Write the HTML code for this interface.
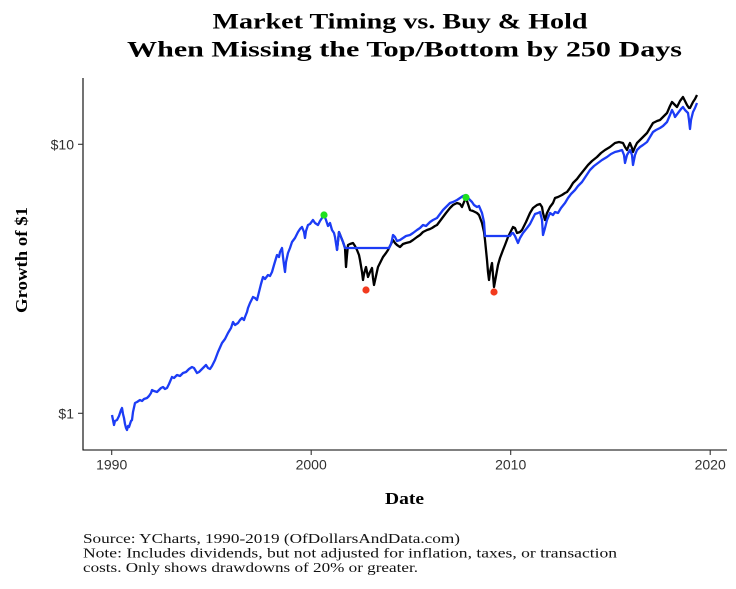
<!DOCTYPE html>
<html>
<head>
<meta charset="utf-8">
<style>
  html, body { margin: 0; padding: 0; background: #ffffff; }
  svg { display: block; }
</style>
</head>
<body>
<svg width="736" height="589" viewBox="0 0 736 589" xmlns="http://www.w3.org/2000/svg">
  <rect width="736" height="589" fill="#ffffff"/>

  <!-- Title -->
  <text x="400" y="28.3" text-anchor="middle" font-family="'Liberation Serif', serif" font-weight="bold" font-size="22" fill="#000" textLength="375" lengthAdjust="spacingAndGlyphs">Market Timing vs. Buy &amp; Hold</text>
  <text x="404.5" y="56.7" text-anchor="middle" font-family="'Liberation Serif', serif" font-weight="bold" font-size="22" fill="#000" textLength="555" lengthAdjust="spacingAndGlyphs">When Missing the Top/Bottom by 250 Days</text>

  <!-- Axes -->
  <line x1="83" y1="78" x2="83" y2="450.5" stroke="#000" stroke-width="1.1"/>
  <line x1="82.5" y1="450" x2="727" y2="450" stroke="#000" stroke-width="1.1"/>

  <!-- Y ticks -->
  <line x1="78" y1="144.3" x2="83" y2="144.3" stroke="#333" stroke-width="1.1"/>
  <line x1="78" y1="413.3" x2="83" y2="413.3" stroke="#333" stroke-width="1.1"/>
  <g font-family="'Liberation Sans', sans-serif" font-size="14" fill="#303030">
    <text x="74" y="149.3" text-anchor="end">$10</text>
    <text x="74" y="418.3" text-anchor="end">$1</text>
  </g>

  <!-- X ticks -->
  <g stroke="#333" stroke-width="1.1">
    <line x1="111.7" y1="450" x2="111.7" y2="455"/>
    <line x1="311.2" y1="450" x2="311.2" y2="455"/>
    <line x1="510.7" y1="450" x2="510.7" y2="455"/>
    <line x1="710.2" y1="450" x2="710.2" y2="455"/>
  </g>
  <g font-family="'Liberation Sans', sans-serif" font-size="14" fill="#303030" text-anchor="middle">
    <text x="111.7" y="469.3">1990</text>
    <text x="311.2" y="469.3">2000</text>
    <text x="510.7" y="469.3">2010</text>
    <text x="710.2" y="469.3">2020</text>
  </g>

  <!-- Axis titles -->
  <text x="404.5" y="504" text-anchor="middle" font-family="'Liberation Serif', serif" font-weight="bold" font-size="17" fill="#000" textLength="39" lengthAdjust="spacingAndGlyphs">Date</text>
  <text transform="translate(27,260) rotate(-90)" x="0" y="0" text-anchor="middle" font-family="'Liberation Serif', serif" font-weight="bold" font-size="17" fill="#000" textLength="106" lengthAdjust="spacingAndGlyphs">Growth of $1</text>

  <!-- Buy & Hold (black) -->
  <polyline fill="none" stroke="#000000" stroke-width="2.3" stroke-linejoin="round" points="
    337,250 339,232 341,237 343,242 345,248 346,267 347,255 348,245 350,244 353,243 355,246 357,250 359,255 360,260 362,272 363,280 364,274 366,267 367,272 368,277 370,272 372,268 373,278 374,285 376,276 378,267 380,263 383,257 386,253 388,250 391,244 393,240 395,243 397,245 400,247 403,244 406,243 410,242 413,240 417,237 420,235 423,232 427,230 430,229 432,228 435,226 437,225 440,221 443,217 446,213 450,208 453,205 457,203 460,204 462,207 464,202 466,198 468,204 470,210 473,211 477,213 479,215 482,223 484,232 485,240 486,250 487,260 488,272 489,280 490,272 492,263 493,275 494,287 496,276 498,265 500,258 503,250 505,245 508,237 510,233 513,227 515,228 517,233 520,232 522,230 526,222 530,213 533,208 537,205 540,204 542,207 543,213 545,220 547,213 550,207 553,203 555,198 558,197 562,195 565,193 567,192 570,188 573,183 577,179 580,175 584,170 588,165 592,161 597,157 601,153 605,150 610,147 615,143 619,142 623,143 625,147 627,150 629,145 630,143 632,148 633,152 635,147 637,143 640,140 643,137 647,133 650,128 653,123 657,121 660,120 663,117 667,113 670,106 672,102 675,105 677,107 680,101 683,97 685,101 687,105 689,108 690,108 692,104 693,102 695,99 697,95"/>

  <!-- Market Timing (blue) -->
  <polyline fill="none" stroke="#1c3cf5" stroke-width="2.3" stroke-linejoin="round" points="
    112,415 113,420 114,425 115,421 117,420 119,416 121,410 122,408 123,414 124,418 125,424 126,428 127,430 128,426 129,427 130,424 131,421 132,420 133,412 135,403 137,402 140,400 142,401 144,399 147,398 149,396 151,393 152,390 154,391 157,392 159,390 161,388 163,387 165,389 167,388 169,384 172,377 174,378 177,375 180,376 183,373 186,372 189,369 192,367 194,368 197,373 199,372 201,370 203,368 205,366 206,365 208,368 210,369 212,366 215,360 218,352 222,343 225,339 228,333 231,328 233,322 235,325 238,323 240,320 242,318 244,320 245,317 247,312 248,308 250,303 253,297 255,298 257,300 259,292 261,284 263,277 265,279 268,275 270,276 272,272 274,265 277,255 279,257 280,252 282,248 283,257 284,265 285,272 286,262 288,253 290,248 292,242 295,238 298,232 300,229 302,227 304,232 305,238 306,231 308,225 310,224 313,220 315,223 318,225 320,221 322,218 324,215 326,220 328,226 330,223 332,230 334,233 335,237 337,250 339,232 341,237 343,242 345,248
    389,248 391,244 392,240 393,235 395,237 397,241 400,240 403,238 406,236 410,235 413,233 417,230 420,228 423,225 426,226 430,222 433,220 437,218 440,214 443,210 446,207 450,203 453,202 457,200 460,198 463,196 466,195 468,198 470,200 472,202 474,205 477,207 479,206 482,213 484,222 485,236
    510,236 512,233 513,233 515,236 518,243 520,238 523,233 527,228 530,224 532,220 535,214 538,213 540,212 542,220 543,235 545,228 547,220 550,213 553,215 555,212 558,213 561,208 565,203 568,198 571,194 575,190 578,186 582,182 586,176 590,170 594,166 598,163 602,160 607,157 611,154 615,152 619,151 622,150 624,155 625,163 627,155 630,150 632,155 633,165 635,155 637,150 640,147 643,145 647,142 650,137 653,132 656,130 660,128 663,126 667,122 670,115 672,110 674,114 675,117 678,113 681,109 683,107 685,110 688,113 689,120 690,129 691,120 693,112 695,108 697,103"/>

  <!-- Points -->
  <circle cx="324" cy="215" r="3.6" fill="#1ee01e"/>
  <circle cx="466" cy="197.5" r="3.6" fill="#1ee01e"/>
  <circle cx="366" cy="290" r="3.6" fill="#f23a1e"/>
  <circle cx="494" cy="292" r="3.6" fill="#f23a1e"/>

  <!-- Caption -->
  <g font-family="'Liberation Serif', serif" font-size="14" fill="#111">
    <text x="83" y="543" textLength="377" lengthAdjust="spacingAndGlyphs">Source:  YCharts, 1990-2019 (OfDollarsAndData.com)</text>
    <text x="83" y="557.5" textLength="534" lengthAdjust="spacingAndGlyphs">Note: Includes dividends, but not adjusted for inflation, taxes, or transaction</text>
    <text x="83" y="572" textLength="335" lengthAdjust="spacingAndGlyphs">costs. Only shows drawdowns of 20% or greater.</text>
  </g>
</svg>
</body>
</html>
